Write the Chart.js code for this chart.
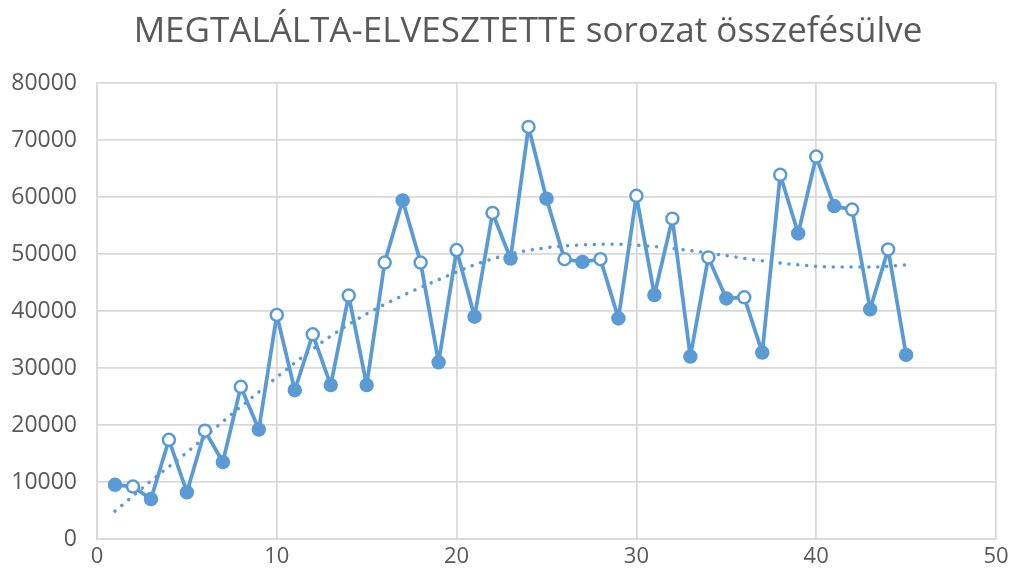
<!DOCTYPE html>
<html>
<head>
<meta charset="utf-8">
<script src="https://cdn.jsdelivr.net/npm/chart.js@4/dist/chart.umd.min.js"></script>
<style>
  html, body { margin: 0; padding: 0; background: #fff; }
  #wrap { width: 1016px; height: 584px; }
</style>
</head>
<body>
<div id="wrap"><canvas id="mergedChart" width="1016" height="584"></canvas></div>
<script>
// merged series, x = 1..45
const xValues = [1, 2, 3, 4, 5, 6, 7, 8, 9, 10, 11, 12, 13, 14, 15, 16, 17, 18, 19, 20, 21, 22, 23,
    24, 25, 26, 27, 28, 29, 30, 31, 32, 33, 34, 35, 36, 37, 38, 39, 40, 41, 42, 43, 44, 45];
const yValues = [9500, 9200, 7000, 17400, 8200, 19000, 13500, 26700, 19200, 39300, 26100, 35900, 27000,
    42700, 27000, 48500, 59400, 48500, 31000, 50700, 39000, 57200, 49200, 72300, 59700, 49100, 48600,
    49100, 38700, 60200, 42800, 56200, 32000, 49400, 42200, 42400, 32700, 63900, 53600, 67100, 58400,
    57800, 40300, 50800, 32300];

// dotted trendline
const trendX = [1, 3, 5, 7, 9, 11, 13, 15, 17, 19, 21, 23, 25, 27, 29, 31, 33, 35, 37, 39, 41, 43, 45];
const trendY = [4900, 10200, 15200, 20600, 25800, 30900, 35600, 39500, 42700, 45500, 48100, 50000,
    51100, 51600, 51700, 51300, 50600, 49700, 48800, 48100, 47700, 47700, 48100];

const xTicks = [0, 10, 20, 30, 40, 50];
const yTicks = [0, 10000, 20000, 30000, 40000, 50000, 60000, 70000, 80000];

const BLUE = '#5B9BD5';
const GRID = '#D9D9D9';
const TEXT = '#595959';

// the original title sits a bit right of the canvas centre
const titleShift = {
    id: 'titleShift',
    afterLayout(chart) {
        if (chart.titleBlock) chart.titleBlock.left = 60;
    }
};

function initializeMergedChart() {
    const ctx = document.getElementById('mergedChart');
    if (!ctx) return;

    const data = {
        datasets: [
            {
                label: 'Összefésülve',
                data: xValues.map((x, i) => ({ x, y: yValues[i] })),
                borderColor: BLUE,
                borderWidth: 3.75,
                borderJoinStyle: 'round',
                borderCapStyle: 'round',
                pointRadius: 6,
                pointBorderWidth: 2.5,
                pointBorderColor: BLUE,
                pointBackgroundColor: (c) => (c.raw && c.raw.x % 2 === 1 ? BLUE : '#ffffff'),
                tension: 0,
                order: 1
            },
            {
                label: 'Trend',
                data: trendX.map((x, i) => ({ x, y: trendY[i] })),
                borderColor: BLUE,
                borderWidth: 3.5,
                borderDash: [0.1, 8.8],
                borderCapStyle: 'round',
                pointRadius: 0,
                cubicInterpolationMode: 'monotone',
                order: 2
            }
        ]
    };

    new Chart(ctx, {
        type: 'line',
        data,
        plugins: [titleShift],
        options: {
            responsive: false,
            animation: false,
            layout: { padding: { left: 0, right: 20, top: 0, bottom: 0 } },
            plugins: {
                legend: { display: false },
                tooltip: { enabled: false },
                title: {
                    display: true,
                    text: 'MEGTALÁLTA-ELVESZTETTE sorozat összefésülve',
                    color: TEXT,
                    font: { family: 'Open Sans', size: 35, weight: 'normal' },
                    padding: { top: 11, bottom: 30 }
                }
            },
            scales: {
                x: {
                    type: 'linear',
                    min: 0,
                    max: 50,
                    afterBuildTicks: (s) => { s.ticks = xTicks.map(v => ({ value: v })); },
                    afterFit: (s) => { s.height = 45; },
                    grid: { color: GRID, lineWidth: 1.75, drawTicks: false },
                    border: { color: GRID, width: 1.75 },
                    ticks: {
                        color: TEXT,
                        padding: 5,
                        maxRotation: 0,
                        font: { family: 'Open Sans', size: 22 }
                    }
                },
                y: {
                    min: 0,
                    max: 80000,
                    afterBuildTicks: (s) => { s.ticks = yTicks.map(v => ({ value: v })); },
                    afterFit: (s) => { s.width = 97; },
                    grid: { color: GRID, lineWidth: 1.75, drawTicks: false },
                    border: { color: GRID, width: 1.75 },
                    ticks: {
                        color: TEXT,
                        padding: 20,
                        font: { family: 'Open Sans', size: 23 },
                        callback: (v) => String(v)
                    }
                }
            }
        }
    });
}

initializeMergedChart();
</script>
</body>
</html>
